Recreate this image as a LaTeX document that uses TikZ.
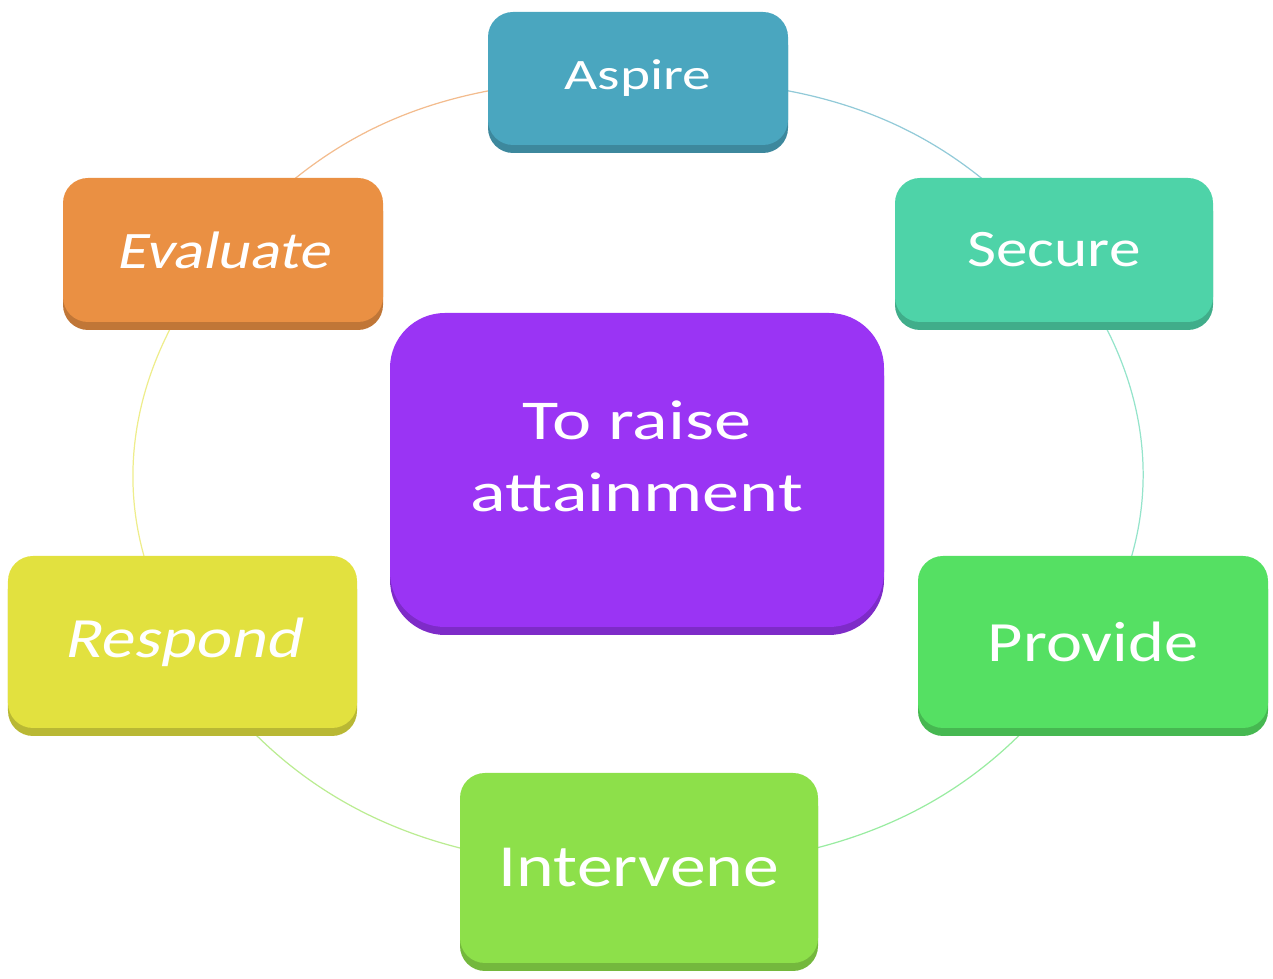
\documentclass[tikz,border=0pt]{standalone}
\usepackage{fontspec}
\setmainfont{Carlito}[FakeStretch=1.2]
\newfontfamily\widefont{Carlito}[FakeStretch=1.32]
\newfontfamily\slfont{Carlito}[FakeStretch=1.18,FakeSlant=0.2]
\usetikzlibrary{backgrounds,shadows}

\definecolor{aspirecol}{HTML}{4AA6BF}
\definecolor{securecol}{HTML}{4ED3A8}
\definecolor{providecol}{HTML}{55E063}
\definecolor{intervenecol}{HTML}{8DE04A}
\definecolor{respondcol}{HTML}{E2E13F}
\definecolor{evaluatecol}{HTML}{EA9043}
\definecolor{goalcol}{HTML}{9A34F4}

\tikzset{
  tile/.style={rounded corners=0.5cm, fill=#1, text=white, align=center, inner sep=0pt,
    general shadow={fill=#1!82!black, shadow yshift=-0.16cm}},
  link/.style={line width=0.7pt, #1!60!white},
}

\begin{document}
\begin{tikzpicture}
  \useasboundingbox (0,0) rectangle (25.46,19.58);

  % goal in the middle
  \node[tile=goalcol, rounded corners=1.1cm, minimum width=9.88cm, minimum height=6.28cm,
    text depth=0.55cm, font=\widefont\fontsize{32}{41}\selectfont] (goal) at (12.74,10.18)
    {To raise\\attainment};

  % the six steps round it
  \node[tile=aspirecol, minimum width=6cm, minimum height=2.66cm,
    font=\widefont\fontsize{24.7}{30}\selectfont] (aspire) at (12.76,18.01) {Aspire};
  \node[tile=securecol, minimum width=6.36cm, minimum height=2.88cm,
    font=\fontsize{30}{36}\selectfont] (secure) at (21.08,14.58) {Secure};
  \node[tile=providecol, minimum width=7cm, minimum height=3.44cm,
    font=\fontsize{32.4}{38}\selectfont] (provide) at (21.86,6.74) {Provide};
  \node[tile=intervenecol, minimum width=7.16cm, minimum height=3.8cm,
    font=\fontsize{34}{40}\selectfont] (intervene) at (12.78,2.22) {Intervene};
  \node[tile=respondcol, minimum width=6.98cm, minimum height=3.44cm,
    font=\slfont\fontsize{32.4}{38}\selectfont] (respond) at (3.65,6.74) {Respond};
  \node[tile=evaluatecol, minimum width=6.4cm, minimum height=2.88cm,
    font=\slfont\fontsize{30}{36}\selectfont] (evaluate) at (4.46,14.58) {Evaluate};

  \begin{scope}[on background layer]
    \foreach \from/\to/\o/\i/\c in {evaluate/aspire/50/180/evaluatecol,
        aspire/secure/0/130/aspirecol, secure/provide/-50/58/securecol,
        provide/intervene/-122/0/providecol, intervene/respond/180/-58/intervenecol,
        respond/evaluate/122/-130/respondcol}
      \draw[link=\c] (\from.center) to[out=\o,in=\i] (\to.center);
  \end{scope}
\end{tikzpicture}
\end{document}
